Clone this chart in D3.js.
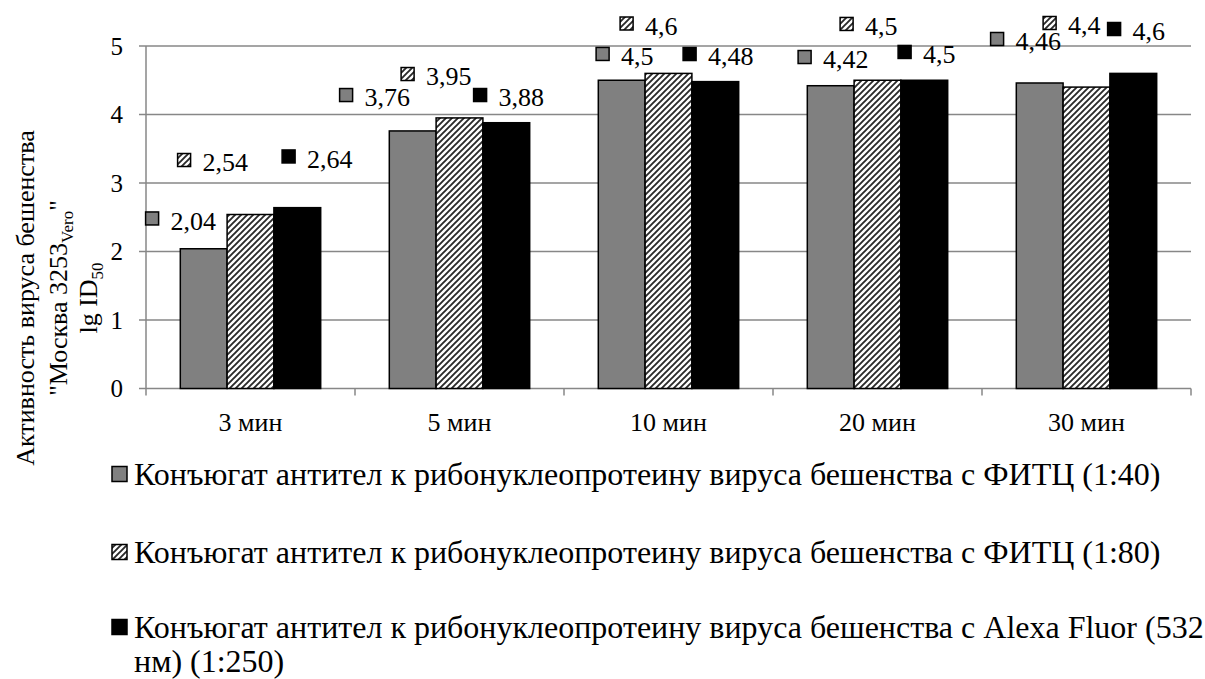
<!DOCTYPE html>
<html>
<head>
<meta charset="utf-8">
<script src="https://cdn.jsdelivr.net/npm/d3@7"></script>
<style>
  html, body { margin: 0; padding: 0; background: #fff; }
  svg { display: block; font-family: "Liberation Serif", "Times New Roman", serif; }
</style>
</head>
<body>
<svg id="chart" width="1205" height="679"></svg>
<script>
// ---- data ----
const categories = ["3 мин", "5 мин", "10 мин", "20 мин", "30 мин"];
const seriesNames = [
  "Конъюгат антител к рибонуклеопротеину вируса бешенства с ФИТЦ (1:40)",
  "Конъюгат антител к рибонуклеопротеину вируса бешенства с ФИТЦ (1:80)",
  "Конъюгат антител к рибонуклеопротеину вируса бешенства с Alexa Fluor (532 нм) (1:250)"
];
const fitc40 = [2.04, 3.76, 4.5, 4.42, 4.46];
const fitc80 = [2.54, 3.95, 4.6, 4.5, 4.4];
const alexa250 = [2.64, 3.88, 4.48, 4.5, 4.6];
const yTicks = [0, 1, 2, 3, 4, 5];

// ---- layout (label offsets from bar top-centre, px) ----
const labelOffsets = [
  [[-51.6, -30.3], [-66.6, -35.9], [-19.1, -26.3], [-26.1, -28.7], [-42.6, -44]],
  [[-66.4, -54.5], [-51.9, -43.9], [-41.9, -49.9], [-30.9, -56.3], [-36.9, -64.1]],
  [[-8.7, -51.2], [-26.2, -27.7], [-25.7, -27.6], [-19.7, -28.3], [-19.2, -44.4]]
];

const seriesValues = [fitc40, fitc80, alexa250];
const fills = ["#808080", "url(#hatch)", "#000000"];

const svg = d3.select("#chart");
const defs = svg.append("defs");
const pat = defs.append("pattern")
  .attr("id", "hatch").attr("patternUnits", "userSpaceOnUse")
  .attr("width", 6).attr("height", 6);
pat.append("rect").attr("width", 6).attr("height", 6).attr("fill", "#fff");
pat.append("path").attr("d", "M-1,1 l2,-2 M0,6 l6,-6 M5,7 l2,-2")
  .attr("stroke", "#2a2a2a").attr("stroke-width", 1.9);

const plotL = 146, plotR = 1191, plotT = 46, plotB = 388.5;
const x = d3.scaleBand().domain(categories).range([plotL, plotR]).paddingInner(0).paddingOuter(0);
const xs = d3.scaleBand().domain([0, 1, 2]).range([0, x.bandwidth()]).paddingOuter(0.733).paddingInner(0);
const y = d3.scaleLinear().domain([0, 5]).range([plotB, plotT]);

const gridColor = "#878787";

// gridlines
svg.append("g").selectAll("line").data(yTicks).join("line")
  .attr("x1", plotL - 7).attr("x2", plotR)
  .attr("y1", d => y(d)).attr("y2", d => y(d))
  .attr("stroke", gridColor).attr("stroke-width", 1.5);

// y axis line
svg.append("line").attr("x1", plotL).attr("x2", plotL).attr("y1", plotT).attr("y2", plotB + 0.5)
  .attr("stroke", gridColor).attr("stroke-width", 1.5);

// y tick labels
svg.append("g").selectAll("text").data(yTicks).join("text")
  .attr("x", 123).attr("y", d => y(d)).attr("dy", "0.35em")
  .attr("text-anchor", "end").attr("font-size", 25).attr("fill", "#000")
  .text(d => d);

// x axis ticks
const xTickPos = categories.map(c => x(c)).concat([plotR]);
svg.append("g").selectAll("line").data(xTickPos).join("line")
  .attr("x1", d => d).attr("x2", d => d).attr("y1", plotB).attr("y2", plotB + 7)
  .attr("stroke", gridColor).attr("stroke-width", 1.5);

// x labels
svg.append("g").selectAll("text").data(categories).join("text")
  .attr("x", d => x(d) + x.bandwidth() / 2).attr("y", 422).attr("dy", "0.35em")
  .attr("text-anchor", "middle").attr("font-size", 26).text(d => d);

// bars
seriesValues.forEach((vals, s) => {
  svg.append("g").selectAll("rect").data(vals).join("rect")
    .attr("x", (d, i) => x(categories[i]) + xs(s))
    .attr("y", d => y(d))
    .attr("width", xs.bandwidth())
    .attr("height", d => y(0) - y(d))
    .attr("fill", fills[s]).attr("stroke", "#000").attr("stroke-width", 1.5);
});

// data labels
seriesValues.forEach((vals, s) => {
  const g = svg.append("g");
  vals.forEach((v, i) => {
    const cx = x(categories[i]) + xs(s) + xs.bandwidth() / 2;
    const [dx, dy] = labelOffsets[s][i];
    const mx = cx + dx, my = y(v) + dy;
    g.append("rect").attr("x", mx - 6.5).attr("y", my - 6.5).attr("width", 13).attr("height", 13)
      .attr("fill", fills[s]).attr("stroke", "#000").attr("stroke-width", 1.5);
    g.append("text").attr("x", mx + 18.5).attr("y", my + 2).attr("dy", "0.35em")
      .attr("font-size", 26).text(String(v).replace(".", ","));
  });
});

// y axis title
const tg = svg.append("g").attr("font-size", 26).attr("text-anchor", "middle");
const cy = 298;
tg.append("text").attr("transform", `translate(34,${cy}) rotate(-90)`).text("Активность вируса бешенства");
const t2 = tg.append("text").attr("transform", `translate(67,${cy}) rotate(-90)`);
t2.append("tspan").text("\"Москва 3253");
t2.append("tspan").attr("font-size", 17).attr("dy", 6).text("Vero");
t2.append("tspan").attr("dy", -6).text("\"");
const t3 = tg.append("text").attr("transform", `translate(97,${cy}) rotate(-90)`);
t3.append("tspan").text("lg ID");
t3.append("tspan").attr("font-size", 17).attr("dy", 6).text("50");

// legend
const legY = [474, 552, 627];
const lg = svg.append("g").attr("font-size", 32);
seriesNames.forEach((name, s) => {
  lg.append("rect").attr("x", 112).attr("y", legY[s] - 7.5).attr("width", 15).attr("height", 15)
    .attr("fill", fills[s]).attr("stroke", "#000").attr("stroke-width", 1.5);
  const t = lg.append("text").attr("x", 134).attr("y", legY[s]).attr("dy", "0.35em");
  if (s === 2) {
    t.text("Конъюгат антител к рибонуклеопротеину вируса бешенства с Alexa Fluor (532");
    lg.append("text").attr("x", 134).attr("y", legY[s] + 34).attr("dy", "0.35em").text("нм) (1:250)");
  } else {
    t.text(name);
  }
});
</script>
</body>
</html>
